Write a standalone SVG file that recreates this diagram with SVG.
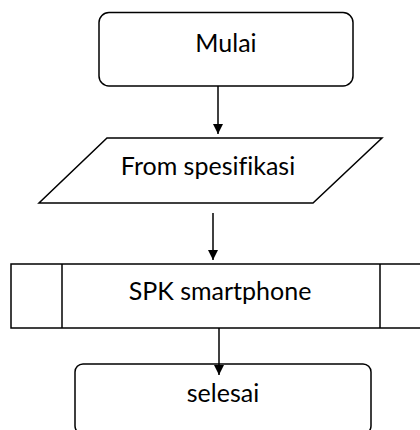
<svg xmlns="http://www.w3.org/2000/svg" width="420" height="430" viewBox="0 0 420 430">
<defs>
<marker id="ah" viewBox="0 0 10 10" refX="10" refY="5" markerWidth="10" markerHeight="10" markerUnits="userSpaceOnUse" orient="auto">
<path d="M0,0 L10,5 L0,10 Z" fill="#000"/>
</marker>
<style>
.s{fill:#fff;stroke:#000;stroke-width:1.5}
.t{font-family:Lato,"Open Sans","Liberation Sans",sans-serif;font-size:25px;fill:#000;text-anchor:middle;font-variant-ligatures:none;font-feature-settings:"liga" 0}
.c{stroke:#000;stroke-width:1.5;fill:none}
</style>
</defs>
<rect width="420" height="430" fill="#fff"/>
<g id="mulai">
<rect class="s" x="99" y="12.5" width="254" height="73.5" rx="10"/>
<text class="t" x="226" y="52">Mulai</text>
</g>
<g id="form">
<polygon class="s" points="107,138 382,138 313,203 39,203"/>
<text class="t" x="208" y="175">From spesifikasi</text>
</g>
<g id="spk">
<rect class="s" x="11" y="264" width="420" height="64"/>
<line class="c" x1="62" y1="264" x2="62" y2="328"/>
<line class="c" x1="380" y1="264" x2="380" y2="328"/>
<text class="t" x="220" y="300">SPK smartphone</text>
</g>
<g id="selesai">
<rect class="s" x="75" y="364" width="296" height="70" rx="8"/>
<text class="t" x="223" y="402">selesai</text>
</g>
<g id="connectors">
<line class="c" x1="218" y1="86" x2="218" y2="134" marker-end="url(#ah)"/>
<line class="c" x1="213" y1="213" x2="213" y2="260" marker-end="url(#ah)"/>
<line class="c" x1="219" y1="328" x2="219" y2="375" marker-end="url(#ah)"/>
</g>
</svg>
